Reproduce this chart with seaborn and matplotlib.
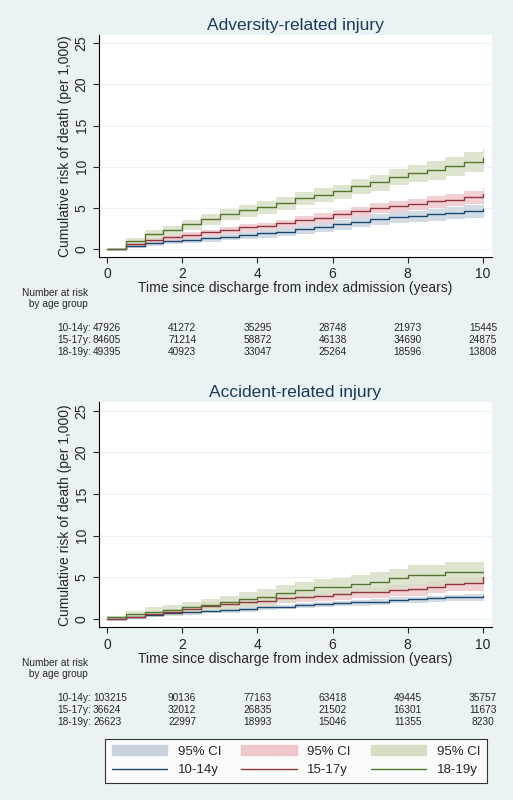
import numpy as np
import pandas as pd
import seaborn as sns
from matplotlib import pyplot as plt
from matplotlib.patches import Patch
from matplotlib.lines import Line2D
from matplotlib.transforms import blended_transform_factory

"""
Data (read off the reference)
"""
years = [0, 0.5, 1, 1.5, 2, 2.5, 3, 3.5, 4, 4.5, 5, 5.5, 6, 6.5, 7, 7.5, 8, 8.5, 9, 9.5, 10]
groups = ['10-14y', '15-17y', '18-19y']

adv_1014 = [0, 0.4, 0.7, 0.9, 1.1, 1.3, 1.5, 1.7, 1.9, 2.1, 2.4, 2.7, 3.0, 3.3, 3.6, 3.9, 4.0, 4.2, 4.4, 4.6, 4.8]
adv_1517 = [0, 0.6, 1.1, 1.4, 1.7, 2.0, 2.3, 2.6, 2.8, 3.1, 3.5, 3.8, 4.2, 4.6, 5.0, 5.2, 5.5, 5.8, 6.0, 6.3, 6.7]
adv_1819 = [0, 1.0, 1.8, 2.3, 3.0, 3.6, 4.2, 4.7, 5.1, 5.6, 6.2, 6.6, 7.0, 7.6, 8.1, 8.8, 9.2, 9.6, 10.1, 10.6, 11.1]
adv_ci_1014 = [0, 0.15, 0.2, 0.25, 0.3, 0.3, 0.35, 0.4, 0.4, 0.45, 0.45, 0.5, 0.55, 0.55, 0.6, 0.6, 0.65, 0.7, 0.7, 0.75, 0.8]
adv_ci_1517 = [0, 0.2, 0.25, 0.3, 0.3, 0.35, 0.35, 0.4, 0.4, 0.45, 0.45, 0.5, 0.5, 0.55, 0.55, 0.6, 0.6, 0.65, 0.65, 0.7, 0.75]
adv_ci_1819 = [0, 0.35, 0.45, 0.5, 0.55, 0.6, 0.6, 0.65, 0.7, 0.7, 0.75, 0.8, 0.8, 0.85, 0.9, 0.95, 1.0, 1.05, 1.1, 1.15, 1.2]

acc_1014 = [0, 0.3, 0.5, 0.7, 0.8, 1.0, 1.1, 1.2, 1.4, 1.5, 1.7, 1.8, 1.9, 2.0, 2.1, 2.3, 2.4, 2.5, 2.6, 2.7, 2.8]
acc_1517 = [0, 0.3, 0.6, 0.9, 1.2, 1.6, 1.8, 2.0, 2.2, 2.5, 2.7, 2.8, 3.0, 3.2, 3.3, 3.5, 3.6, 3.9, 4.2, 4.3, 5.0]
acc_1819 = [0.2, 0.6, 0.9, 1.1, 1.4, 1.7, 2.0, 2.4, 2.7, 3.1, 3.5, 3.8, 3.9, 4.2, 4.5, 4.9, 5.3, 5.3, 5.6, 5.6, 5.7]
acc_ci_1014 = [0, 0.1, 0.1, 0.15, 0.15, 0.15, 0.2, 0.2, 0.2, 0.2, 0.25, 0.25, 0.25, 0.25, 0.3, 0.3, 0.3, 0.3, 0.35, 0.35, 0.35]
acc_ci_1517 = [0, 0.2, 0.25, 0.3, 0.35, 0.4, 0.4, 0.45, 0.45, 0.5, 0.5, 0.55, 0.55, 0.6, 0.6, 0.65, 0.65, 0.7, 0.75, 0.75, 0.8]
acc_ci_1819 = [0.2, 0.4, 0.5, 0.6, 0.7, 0.75, 0.8, 0.85, 0.9, 0.95, 1.0, 1.0, 1.05, 1.1, 1.1, 1.15, 1.2, 1.2, 1.25, 1.25, 1.3]

risk_years = [0, 2, 4, 6, 8, 10]
adv_risk_1014 = [47926, 41272, 35295, 28748, 21973, 15445]
adv_risk_1517 = [84605, 71214, 58872, 46138, 34690, 24875]
adv_risk_1819 = [49395, 40923, 33047, 25264, 18596, 13808]
acc_risk_1014 = [103215, 90136, 77163, 63418, 49445, 35757]
acc_risk_1517 = [36624, 32012, 26835, 21502, 16301, 11673]
acc_risk_1819 = [26623, 22997, 18993, 15046, 11355, 8230]

line_colors = ['#1a476f', '#90353b', '#55752f']
fill_colors = ['#c9d3de', '#efc6cb', '#d5dfc6']
bg = '#eaf2f3'

"""
Plot
"""
sns.set_style('white')
plt.rcParams['font.family'] = ['Liberation Sans', 'DejaVu Sans']

fig = plt.figure(figsize=(5.13, 8), dpi=100, facecolor=bg)


def km_panel(rect, title, curves, cis, risks, table_y):
   ax = fig.add_axes(rect)
   ax.set_facecolor('white')
   for grp, y, ci, fc in zip(groups, curves, cis, fill_colors):
      y = np.array(y)
      ci = np.array(ci)
      ax.fill_between(years, y - ci, y + ci, step='post', color=fc, alpha=0.8,
                      linewidth=0.6, edgecolor=fc)
   df = pd.concat([pd.DataFrame({'year': years, 'risk': y, 'group': g})
                   for g, y in zip(groups, curves)])
   sns.lineplot(data=df, x='year', y='risk', hue='group', palette=line_colors,
                drawstyle='steps-post', linewidth=1, legend=False, ax=ax)
   ax.set_xlim(-0.21, 10.24)
   ax.set_ylim(-0.97, 26)
   ax.set_xticks(range(0, 11, 2))
   ax.set_yticks(range(0, 26, 5))
   ax.grid(axis='y', color='#eef3f4', linewidth=0.8)
   for s in ['top', 'right']:
      ax.spines[s].set_visible(False)
   for s in ['left', 'bottom']:
      ax.spines[s].set_color('black')
      ax.spines[s].set_linewidth(0.8)
   ax.tick_params(direction='out', length=4, width=0.8, labelsize=10,
                  left=True, bottom=True)
   for lab in ax.get_yticklabels():
      lab.set_rotation(90)
      lab.set_va('center')
   ax.set_title(title, fontsize=12.5, color='#1a3a5c', pad=4)
   ax.set_xlabel('Time since discharge from index admission (years)',
                 fontsize=10, labelpad=0)
   ax.set_ylabel('Cumulative risk of death (per 1,000)', fontsize=10, labelpad=2)

   tr = blended_transform_factory(ax.transData, fig.transFigure)
   fig.text(88 / 513, table_y + 0.037, 'Number at risk\n by age group',
            ha='right', va='center', fontsize=7.3, linespacing=1.1)
   for i, (grp, row) in enumerate(zip(groups, risks)):
      yy = table_y - i * 0.015
      ax.text(-0.43, yy, grp + ':', transform=tr, ha='right', va='center', fontsize=7.3)
      for x, n in zip(risk_years, row):
         if x == 0:
            ax.text(-0.37, yy, str(n), transform=tr, ha='left', va='center', fontsize=7.3)
         else:
            ax.text(x, yy, str(n), transform=tr, ha='center', va='center', fontsize=7.3)
   return ax


km_panel([0.193, 0.679, 0.766, 0.277], 'Adversity-related injury',
         [adv_1014, adv_1517, adv_1819], [adv_ci_1014, adv_ci_1517, adv_ci_1819],
         [adv_risk_1014, adv_risk_1517, adv_risk_1819], 1 - 328 / 800)
km_panel([0.193, 0.216, 0.766, 0.281], 'Accident-related injury',
         [acc_1014, acc_1517, acc_1819], [acc_ci_1014, acc_ci_1517, acc_ci_1819],
         [acc_risk_1014, acc_risk_1517, acc_risk_1819], 1 - 698 / 800)

handles = []
for grp, lc, fc in zip(groups, line_colors, fill_colors):
   handles.append(Patch(facecolor=fc, edgecolor=fc, label='95% CI'))
   handles.append(Line2D([], [], color=lc, linewidth=1, label=grp))
leg = fig.legend(handles=handles, ncol=3, loc='center', bbox_to_anchor=(0.577, 0.049),
                 fontsize=9.5, frameon=True, fancybox=False, edgecolor='black',
                 handlelength=4.2, columnspacing=1.5, borderpad=0.5, labelspacing=0.5)
leg.get_frame().set_linewidth(0.8)

plt.savefig('out.png', dpi=100, facecolor=bg)
